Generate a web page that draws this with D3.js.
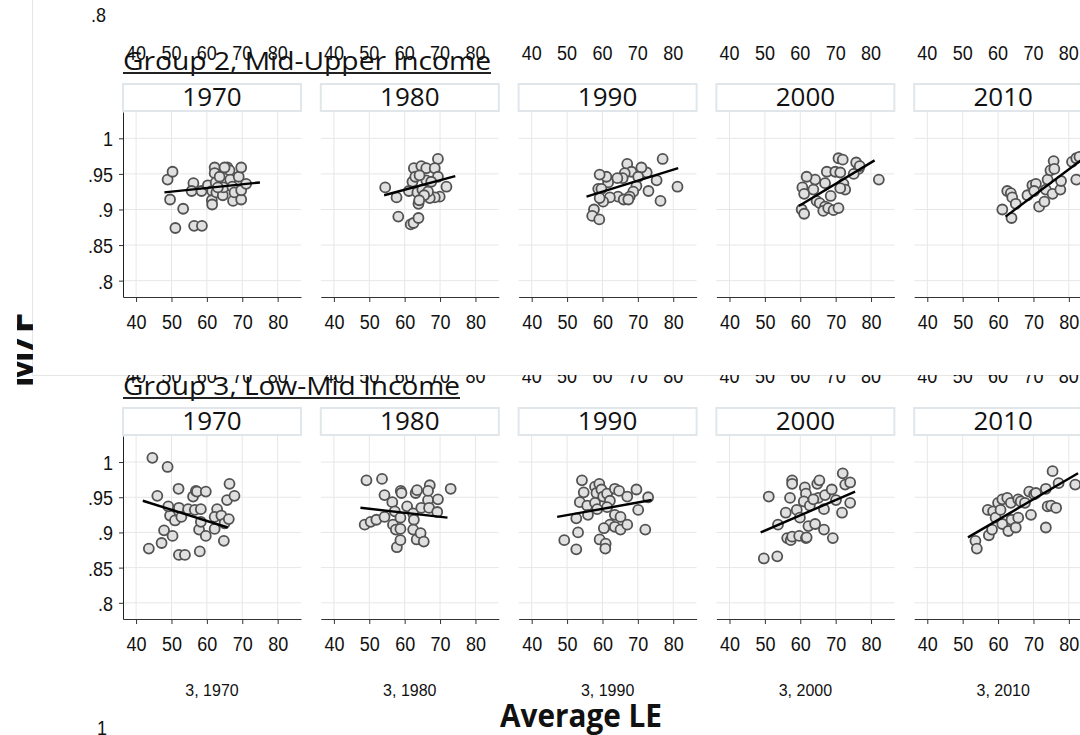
<!DOCTYPE html>
<html>
<head>
<meta charset="utf-8">
<script src="https://cdn.jsdelivr.net/npm/d3@7"></script>
<style>
  body { margin: 0; background: #fff; }
  svg text { font-family: "Liberation Sans", Arial, sans-serif; fill: #111; }
</style>
</head>
<body>
<svg id="chart" width="1080" height="735"></svg>
<script>
// ---- data ----
const years = [1970, 1980, 1990, 2000, 2010]
const groupTitles = ['Group 2, Mid-Upper Income', 'Group 3, Low-Mid Income']
const xTicks = [40, 50, 60, 70, 80]
const yTicks = [0.8, 0.85, 0.9, 0.95, 1]
const yTickLabels = ['.8', '.85', '.9', '.95', '1']
const footLabels = ['3, 1970', '3, 1980', '3, 1990', '3, 2000', '3, 2010']

// [average LE, M/F]
const g2_1970 = [[48.9,.942],[50.3,.953],[49.6,.914],[53.3,.901],[51.1,.874],[56.2,.937],[55.7,.926],[56.4,.877],[58.6,.877],[58.5,.926],[60.3,.934],[61.5,.926],[61.4,.913],[61.5,.907],[62.2,.959],[62.2,.951],[62.5,.938],[62.7,.924],[64.5,.920],[64.7,.931],[65.8,.959],[66.4,.955],[66.6,.942],[67.2,.932],[67.4,.912],[67.8,.924],[69.0,.946],[69.7,.959],[69.7,.914],[69.7,.927],[71.1,.936],[63.6,.946],[65.0,.959],[63.1,.931]]
const g2_1980 = [[54.5,.931],[57.7,.917],[58.2,.890],[61.7,.879],[62.5,.881],[63.9,.888],[63.9,.908],[62.6,.958],[64.7,.961],[66.1,.958],[69.4,.971],[68.5,.958],[69.4,.946],[71.8,.932],[69.9,.918],[68.5,.917],[67.1,.916],[62.2,.939],[61.2,.926],[63.6,.924],[65.0,.928],[66.1,.941],[66.6,.925],[63.0,.946],[64.2,.948],[67.5,.939],[65.5,.920],[64.1,.913]]
const g2_1990 = [[77.0,.971],[81.2,.932],[76.4,.912],[73.0,.926],[75.3,.941],[72.5,.952],[71.0,.959],[69.6,.933],[68.7,.925],[67.7,.918],[67.0,.964],[68.2,.953],[70.1,.946],[66.3,.951],[65.7,.944],[64.4,.918],[66.0,.914],[67.3,.914],[64.2,.944],[61.6,.938],[61.1,.946],[59.2,.949],[58.8,.929],[59.7,.929],[62.1,.917],[60.2,.911],[59.2,.916],[57.6,.900],[57.1,.891],[59.1,.886]]
const g2_2000 = [[82.2,.942],[75.8,.966],[76.5,.957],[76.8,.961],[75.1,.950],[70.8,.972],[72.0,.970],[67.5,.953],[69.9,.953],[71.3,.952],[67.0,.937],[72.2,.936],[72.7,.928],[71.3,.930],[68.6,.919],[64.2,.942],[61.8,.946],[63.7,.928],[60.6,.931],[61.1,.922],[64.6,.912],[65.5,.909],[67.0,.904],[66.5,.898],[67.9,.902],[69.4,.899],[70.8,.902],[60.4,.900],[61.1,.894]]
const g2_2010 = [[61.2,.900],[62.6,.926],[63.6,.923],[64.0,.917],[63.8,.888],[65.0,.908],[68.3,.920],[69.7,.934],[70.7,.936],[70.2,.926],[71.6,.904],[73.1,.911],[74.0,.942],[73.5,.928],[74.8,.955],[75.7,.968],[75.9,.957],[75.4,.922],[77.6,.928],[77.8,.940],[80.9,.967],[82.1,.942],[82.1,.972],[83.0,.974]]

const g3_1970 = [[44.6,1.006],[48.9,.993],[46.0,.952],[43.6,.877],[47.2,.885],[47.9,.903],[50.3,.895],[49.6,.924],[49.1,.937],[51.0,.917],[52.0,.962],[52.1,.935],[52.8,.922],[52.1,.868],[53.8,.868],[54.7,.933],[56.1,.951],[56.9,.959],[57.2,.958],[56.6,.932],[58.0,.873],[57.8,.904],[58.3,.933],[58.3,.915],[59.7,.958],[59.7,.895],[62.2,.905],[62.9,.933],[62.2,.922],[64.1,.924],[65.0,.913],[64.8,.888],[65.7,.946],[66.2,.919],[66.4,.969],[67.8,.952]]
const g3_1980 = [[49.2,.974],[53.6,.976],[54.3,.953],[48.7,.911],[50.4,.915],[52.0,.918],[54.3,.922],[56.5,.943],[57.2,.930],[56.7,.911],[57.5,.904],[57.8,.879],[58.8,.889],[58.8,.905],[58.8,.921],[58.9,.959],[59.1,.956],[60.7,.937],[62.4,.927],[62.6,.918],[62.4,.904],[63.4,.890],[64.5,.899],[65.4,.887],[63.1,.956],[63.5,.960],[64.7,.935],[66.6,.946],[67.1,.967],[66.6,.959],[66.9,.935],[69.4,.947],[69.2,.929],[73.0,.962]]
const g3_1990 = [[54.2,.974],[54.7,.957],[53.6,.943],[55.7,.938],[55.9,.925],[52.6,.920],[53.1,.900],[49.2,.889],[52.6,.876],[57.9,.965],[59.1,.969],[58.3,.956],[57.9,.942],[58.5,.933],[59.7,.961],[60.2,.951],[61.3,.955],[62.1,.945],[61.3,.936],[63.5,.962],[64.7,.959],[63.5,.925],[65.1,.922],[62.1,.911],[60.4,.906],[59.2,.890],[60.9,.884],[60.8,.877],[63.5,.908],[65.1,.904],[67.0,.911],[67.0,.951],[69.6,.961],[70.1,.932],[72.9,.950],[72.1,.904]]
const g3_2000 = [[49.7,.863],[53.5,.866],[51.1,.951],[53.7,.911],[55.9,.928],[56.3,.892],[57.3,.889],[57.7,.894],[57.7,.974],[57.7,.969],[57.1,.949],[59.0,.932],[59.9,.921],[59.7,.895],[61.6,.892],[61.8,.893],[61.3,.964],[61.6,.955],[61.0,.944],[62.7,.938],[62.3,.909],[64.2,.912],[64.8,.969],[65.4,.974],[65.1,.949],[63.7,.947],[66.7,.933],[67.0,.953],[66.7,.904],[69.2,.892],[68.9,.961],[70.1,.946],[71.8,.928],[72.0,.984],[72.7,.968],[74.1,.971],[74.1,.942]]
const g3_2010 = [[53.6,.888],[54.0,.877],[57.4,.896],[57.1,.932],[58.3,.904],[58.6,.930],[59.3,.921],[60.0,.942],[60.7,.932],[61.2,.947],[61.2,.912],[62.6,.949],[62.9,.902],[63.6,.942],[63.8,.918],[65.0,.907],[65.7,.947],[65.7,.921],[66.4,.944],[67.6,.942],[68.8,.958],[69.3,.925],[70.2,.954],[70.7,.956],[73.5,.962],[73.5,.907],[74.0,.937],[75.0,.938],[75.4,.987],[76.4,.935],[77.1,.970],[81.8,.968]]

// fitted lines: [x0, y0, x1, y1]
const fit_g2 = [[48.0,.924,75.0,.938],[54.2,.920,74.3,.947],[55.5,.918,81.4,.958],[59.6,.905,81.0,.969],[62.1,.890,84.5,.973]]
const fit_g3 = [[41.9,.945,65.9,.907],[47.5,.935,72.1,.921],[47.2,.922,73.9,.946],[48.8,.900,75.5,.958],[51.5,.893,82.6,.984]]

const groups = [[g2_1970, g2_1980, g2_1990, g2_2000, g2_2010], [g3_1970, g3_1980, g3_1990, g3_2000, g3_2010]]
const fits = [fit_g2, fit_g3]

// ---- layout ----
const svg = d3.select('#chart')
const colPitch = 197.8, plotW = 178
const colLeft = i => 123 + colPitch * i
const rows = [
  { axisY: 297, top: 112, stripY: 84, stripH: 27, titleY: 70, titleW: 368, yearY: 106 },
  { axisY: 619, top: 436, stripY: 408, stripH: 27, titleY: 395, titleW: 337, yearY: 430 }
]
const tickFont = '18px'
const stretch = 1.15   // the tick labels in the picture are a bit taller than Arial

var defs = svg.append('defs')
defs.append('clipPath').attr('id', 'cutTop')
  .append('rect').attr('x', 0).attr('y', 375).attr('width', 1080).attr('height', 40)
defs.append('clipPath').attr('id', 'cutMF')
  .append('rect').attr('x', 17).attr('y', 280).attr('width', 16).attr('height', 120)

// a tall-ish tick label centred on (x, y)
function tickText(sel, x, y, txt, anchor) {
  return sel.append('text')
    .attr('transform', 'translate(' + x + ',' + y + ') scale(1,' + stretch + ')')
    .attr('text-anchor', anchor || 'middle')
    .attr('dominant-baseline', 'central')
    .style('font-size', tickFont).text(txt)
}

// leftovers from the row above (cropped tiles)
tickText(svg, 106, 15, '.8', 'end')
svg.append('line').attr('x1', 32.5).attr('x2', 32.5).attr('y1', 0).attr('y2', 375)
  .attr('stroke', '#e6e6e6')
svg.append('line').attr('x1', 32).attr('x2', 1080).attr('y1', 375.5).attr('y2', 375.5)
  .attr('stroke', '#e6e6e6')

years.forEach(function(y, i) {
  var x = d3.scaleLinear().domain([36.3, 86.6]).range([colLeft(i), colLeft(i) + plotW])
  var top = svg.append('g')
  var cut = svg.append('g').attr('clip-path', 'url(#cutTop)')
  xTicks.forEach(function(t) {
    tickText(top, x(t), 53, t)
    tickText(cut, x(t), 376, t)
  })
})

// ---- panels ----
rows.forEach(function(row, r) {
  var yScale = d3.scaleLinear().domain([0.777, 1.037]).range([row.axisY, row.top])

  years.forEach(function(year, i) {
    var left = colLeft(i)
    var x = d3.scaleLinear().domain([36.3, 86.6]).range([left, left + plotW])
    var g = svg.append('g')

    // grid
    g.selectAll('.gx').data(xTicks).enter().append('line')
      .attr('x1', d => x(d)).attr('x2', d => x(d))
      .attr('y1', row.top).attr('y2', row.axisY)
      .attr('stroke', '#e7e7e7').attr('stroke-width', 1)
    g.selectAll('.gy').data(yTicks).enter().append('line')
      .attr('x1', left).attr('x2', left + plotW)
      .attr('y1', d => yScale(d)).attr('y2', d => yScale(d))
      .attr('stroke', '#e7e7e7').attr('stroke-width', 1)

    // strip
    g.append('rect').attr('x', left).attr('y', row.stripY)
      .attr('width', plotW).attr('height', row.stripH)
      .attr('fill', '#fff').attr('stroke', '#e1e6ea').attr('stroke-width', 2)
    g.append('text').attr('x', left + plotW / 2).attr('y', row.yearY)
      .attr('text-anchor', 'middle')
      .style('font-family', '"Open Sans", sans-serif').style('font-size', '26px')
      .text(year)

    // x axis
    var xa = g.append('g').attr('transform', 'translate(0,' + row.axisY + ')')
      .call(d3.axisBottom(x).tickValues(xTicks).tickSize(5).tickSizeOuter(0))
    xa.select('.domain').attr('stroke', '#333')
    xa.selectAll('.tick line').attr('stroke', '#333')
    xa.selectAll('text')
      .attr('y', 32 / stretch).attr('dy', 0)
      .attr('transform', 'scale(1,' + stretch + ')')
      .style('font-size', tickFont).style('font-family', '"Liberation Sans", Arial, sans-serif').attr('fill', '#111')

    // y axis only on first column
    if (i === 0) {
      var ya = g.append('g').attr('transform', 'translate(' + left + ',0)')
        .call(d3.axisLeft(yScale).tickValues(yTicks).tickSize(4).tickPadding(6).tickSizeOuter(0)
          .tickFormat((d, k) => yTickLabels[k]))
      ya.select('.domain').attr('stroke', '#222')
      ya.selectAll('.tick line').attr('stroke', '#333')
      ya.selectAll('text')
        .attr('dy', 0).attr('dominant-baseline', 'central')
        .attr('transform', 'scale(1,' + stretch + ')')
        .style('font-size', tickFont).style('font-family', '"Liberation Sans", Arial, sans-serif').attr('fill', '#111')
    }

    // points
    g.selectAll('circle').data(groups[r][i]).enter().append('circle')
      .attr('cx', d => x(d[0])).attr('cy', d => yScale(d[1])).attr('r', 5)
      .attr('fill', '#e0e0e0').attr('stroke', '#525252').attr('stroke-width', 1.8)

    // fitted line
    var f = fits[r][i]
    g.append('path')
      .attr('d', d3.line().x(d => x(d[0])).y(d => yScale(d[1]))([[f[0], f[1]], [f[2], f[3]]]))
      .attr('stroke', '#000').attr('stroke-width', 2.4).attr('fill', 'none')
  })

  // group title
  svg.append('text').attr('x', 123).attr('y', row.titleY)
    .attr('textLength', row.titleW).attr('lengthAdjust', 'spacingAndGlyphs')
    .style('font-family', '"Open Sans", sans-serif').style('font-size', '25px')
    .text(groupTitles[r])
  svg.append('line').attr('x1', 123).attr('x2', 123 + row.titleW)
    .attr('y1', row.titleY + 3).attr('y2', row.titleY + 3)
    .attr('stroke', '#222').attr('stroke-width', 1.8)
})

// bottom labels
years.forEach(function(y, i) {
  svg.append('text').attr('x', colLeft(i) + plotW / 2).attr('y', 696)
    .attr('text-anchor', 'middle').style('font-size', '16px').attr('fill', '#222')
    .text(footLabels[i])
})
svg.append('text').attr('x', 581).attr('y', 727).attr('text-anchor', 'middle')
  .attr('textLength', 162).attr('lengthAdjust', 'spacingAndGlyphs')
  .style('font-family', '"Open Sans", sans-serif').style('font-size', '33px').style('font-weight', 700)
  .text('Average LE')
tickText(svg, 107, 728, '1', 'end')

// rotated y title, mostly cropped
svg.append('g').attr('clip-path', 'url(#cutMF)')
  .append('text').attr('transform', 'translate(33,350) rotate(-90)')
  .attr('text-anchor', 'middle')
  .style('font-family', '"Open Sans", sans-serif').style('font-size', '40px').style('font-weight', 700)
  .text('M/F')
</script>
</body>
</html>
